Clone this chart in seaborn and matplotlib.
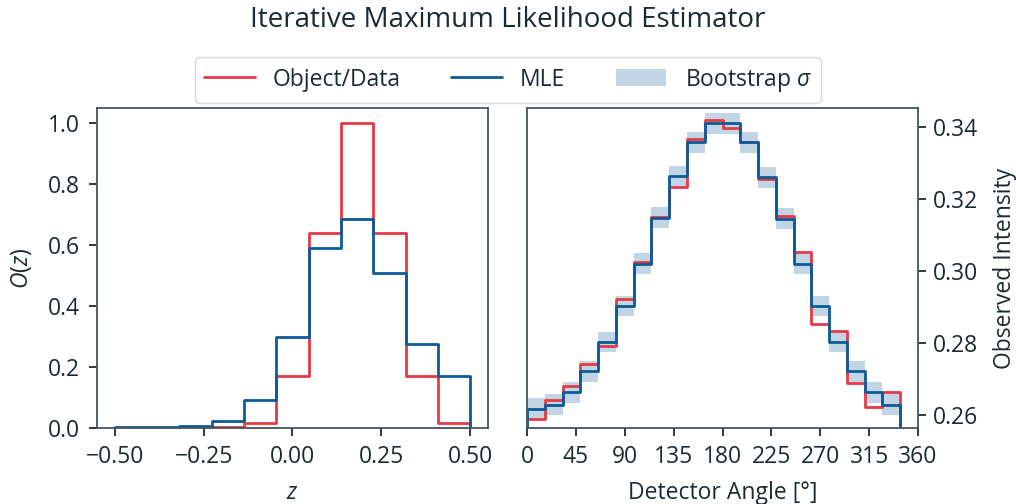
import numpy as np
import matplotlib
matplotlib.use("Agg")
import matplotlib.pyplot as plt
from matplotlib.lines import Line2D
from matplotlib.patches import Patch
import seaborn as sns

# ---- object reconstruction (left panel) ----
z_edges = np.linspace(-0.5, 0.5, 12)
object_true = [0.0, 0.0, 0.0, 0.002, 0.017, 0.169, 0.640, 1.0, 0.640, 0.169, 0.017]
object_mle = [0.002, 0.004, 0.008, 0.024, 0.093, 0.299, 0.590, 0.686, 0.507, 0.277, 0.169]

# ---- detector response (right panel) ----
# 21 angular bins of 360/22 degrees each
angle_edges = np.linspace(0, 360, 22, endpoint=False)
intensity_data = [0.2589, 0.2642, 0.2682, 0.2742, 0.2793, 0.2921, 0.3026, 0.3151,
                  0.3233, 0.3368, 0.3419, 0.3398, 0.3358, 0.3257, 0.3153, 0.3053,
                  0.2854, 0.2833, 0.2688, 0.2623, 0.2663]
intensity_mle = [0.2617, 0.2629, 0.2663, 0.2722, 0.2803, 0.2903, 0.3020, 0.3148,
                 0.3263, 0.3358, 0.3411, 0.3411, 0.3358, 0.3261, 0.3146, 0.3020,
                 0.2903, 0.2803, 0.2722, 0.2663, 0.2629]
bootstrap_sigma = [0.0029] * 21

RED = "#E63946"
BLUE = "#0B5B96"
TEXT = "#1B2A33"
SPINE = "#46555E"
FS = 16.5

sns.set_theme(style="ticks")
plt.rcParams.update({
    "font.family": ["Open Sans", "DejaVu Sans"],
    "mathtext.fontset": "custom",
    "mathtext.rm": "Open Sans",
    "mathtext.it": "Open Sans:italic",
    "font.size": FS,
    "text.color": TEXT,
    "axes.labelcolor": TEXT,
    "xtick.color": TEXT,
    "ytick.color": TEXT,
    "axes.edgecolor": SPINE,
    "axes.linewidth": 1.3,
    "xtick.major.size": 6,
    "ytick.major.size": 6,
    "xtick.major.width": 1.3,
    "ytick.major.width": 1.3,
    "xtick.major.pad": 6.5,
    "ytick.major.pad": 6.5,
    "xtick.labelsize": FS,
    "ytick.labelsize": FS,
    "axes.labelsize": FS,
})

fig, (ax1, ax2) = plt.subplots(1, 2, figsize=(10.16, 5.04), dpi=100)
fig.subplots_adjust(left=97 / 1016, right=918 / 1016, top=1 - 108 / 504,
                    bottom=1 - 428 / 504, wspace=0.1)


def step_line(ax, edges, values, color):
    """Histogram-style outline that closes down to zero at both ends."""
    xs = np.repeat(np.asarray(edges, dtype=float), 2)
    ys = np.concatenate([[0.0], np.repeat(np.asarray(values, dtype=float), 2), [0.0]])
    sns.lineplot(x=xs, y=ys, sort=False, estimator=None, color=color,
                 linewidth=2, ax=ax)


# left panel
step_line(ax1, z_edges, object_true, RED)
step_line(ax1, z_edges, object_mle, BLUE)
ax1.set_xlim(-0.55, 0.55)
ax1.set_ylim(0, 1.05)
ax1.set_xticks([-0.5, -0.25, 0.0, 0.25, 0.5])
ax1.set_xticklabels(["\u22120.50", "\u22120.25", "0.00", "0.25", "0.50"])
ax1.set_yticks([0, 0.2, 0.4, 0.6, 0.8, 1.0])
ax1.set_xlabel("$z$", labelpad=8.5)
ax1.set_ylabel("$O(z)$", labelpad=10)

# right panel
mle = np.asarray(intensity_mle)
sig = np.asarray(bootstrap_sigma)
ax2.stairs(mle + sig, angle_edges, baseline=mle - sig, fill=True,
           color=BLUE, alpha=0.25, linewidth=0)
step_line(ax2, angle_edges, intensity_data, RED)
step_line(ax2, angle_edges, intensity_mle, BLUE)
ax2.set_xlim(0, 360)
ax2.set_ylim(0.2564, 0.3453)
ax2.set_xticks(np.arange(0, 361, 45))
ax2.set_yticks([0.26, 0.28, 0.30, 0.32, 0.34])
ax2.set_yticklabels(["0.26", "0.28", "0.30", "0.32", "0.34"])
ax2.yaxis.tick_right()
ax2.yaxis.set_label_position("right")
ax2.tick_params(axis="y", pad=4.5)
ax2.set_xlabel("Detector Angle [\u00b0]", labelpad=8.5)
ax2.set_ylabel("Observed Intensity", labelpad=11)

for ax in (ax1, ax2):
    for s in ax.spines.values():
        s.set_visible(True)

handles = [
    Line2D([], [], color=RED, lw=2),
    Line2D([], [], color=BLUE, lw=2),
    Patch(facecolor=BLUE, alpha=0.25, edgecolor="none"),
]
labels = ["Object/Data", "MLE", "Bootstrap $\\sigma$"]
fig.legend(handles, labels, loc="center", bbox_to_anchor=(0.5, 1 - 80 / 504),
           ncol=3, frameon=True, fontsize=FS, columnspacing=2.2,
           handlelength=2.2, handletextpad=0.8, edgecolor="#D0D0D0",
           fancybox=True, borderpad=0.4)

fig.suptitle("Iterative Maximum Likelihood Estimator", y=1 - 20 / 504,
             va="center", fontsize=20, color=TEXT)

fig.savefig("out.png", dpi=100)
